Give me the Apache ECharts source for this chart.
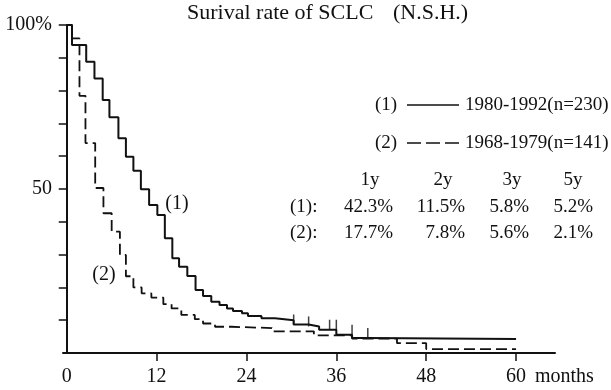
<!DOCTYPE html>
<html>
<head>
<meta charset="utf-8">
<script src="https://cdn.jsdelivr.net/npm/echarts@6/dist/echarts.min.js"></script>
<style>
  html, body { margin: 0; padding: 0; background: #fff; }
  #chart { width: 611px; height: 390px; }
</style>
</head>
<body>
<div id="chart"></div>
<script>
// survival curves, [month, % surviving after the step]
const curve1 = [
  [0, 100], [0.7, 93.9], [2.6, 88.8], [3.7, 83.7], [4.8, 77.1], [5.7, 71.9],
  [6.9, 65.5], [7.9, 59.8], [8.9, 55.6], [9.9, 49.9], [11.0, 45.1], [12.1, 42.1],
  [13.1, 35.0], [14.1, 28.9], [15.0, 26.3], [16.1, 23.5], [17.2, 19.2], [18.2, 17.4],
  [19.3, 15.6], [20.4, 14.6], [21.4, 13.6], [22.2, 12.8], [23.4, 12.1], [24.2, 11.3],
  [26.0, 10.6], [27.8, 10.0], [30.3, 8.7], [32.3, 8.1], [33.7, 7.1], [36.0, 5.6],
  [38.1, 4.6], [40.1, 4.3], [60, 4.3]
]
const curve2 = [
  [0, 100], [0.7, 95.9], [1.7, 78.4], [2.5, 64.0], [3.8, 50.3], [4.9, 42.6],
  [6.0, 37.0], [7.1, 29.9], [7.9, 23.4], [8.9, 20.0], [10.0, 18.2], [11.3, 16.9],
  [12.9, 14.9], [14.0, 13.6], [15.3, 11.6], [17.1, 10.3], [18.2, 9.0], [19.8, 8.0],
  [22.0, 7.6], [27.4, 6.6], [33.0, 5.4], [38.1, 4.4], [44.1, 3.0], [48.0, 1.2], [60, 1.2]
]
// censored marks on curve 1
const censor1 = [[30.3, 8.7], [32.3, 8.1], [35.1, 7.1], [36.0, 7.1], [38.1, 5.6], [40.2, 4.6]]

const xTicks = [12, 24, 36, 48, 60]
const xLabels = [0, 12, 24, 36, 48, 60]
const yTicks = [10, 20, 30, 40, 50, 60, 70, 80, 90, 100]

const legendNames = ['1980-1992(n=230)', '1968-1979(n=141)']
const tableYears = ['1y', '2y', '3y', '5y']
const table1 = [42.3, 11.5, 5.8, 5.2]
const table2 = [17.7, 7.8, 5.6, 2.1]

const FONT = "'Liberation Serif', 'Times New Roman', serif"
const INK = '#111'

const chart = echarts.init(document.getElementById('chart'), null, { renderer: 'canvas' })

const txt = (text, x, y, size, align) => ({
  type: 'text', x: x, y: y, silent: true,
  style: { text: text, font: size + 'px ' + FONT, fill: INK, textAlign: align || 'left', textVerticalAlign: 'middle' }
})

const colRight = [393, 465, 529, 593]
const colHead = [370, 443, 512, 573]
const graphics = [
  txt('Surival rate of SCLC', 187, 13, 22),
  txt('(N.S.H.)', 393, 13, 22),
  txt('months', 535, 377, 20),
  txt('(1)', 177, 204, 20, 'center'),
  txt('(2)', 104, 275, 20, 'center'),
  txt('(1)', 375, 105, 19),
  txt(legendNames[0], 465, 105, 19),
  txt('(2)', 375, 143, 19),
  txt(legendNames[1], 465, 143, 19),
  { type: 'line', silent: true, shape: { x1: 407, y1: 105, x2: 459, y2: 105 }, style: { stroke: INK, lineWidth: 1.6 } },
  { type: 'line', silent: true, shape: { x1: 407, y1: 143, x2: 459, y2: 143 }, style: { stroke: INK, lineWidth: 1.6, lineDash: [14, 5] } },
  txt('(1):', 290, 207, 19),
  txt('(2):', 290, 233, 19)
]
tableYears.forEach((y, i) => {
  graphics.push(txt(y, colHead[i], 180, 19, 'center'))
  graphics.push(txt(table1[i].toFixed(1) + '%', colRight[i], 207, 19, 'right'))
  graphics.push(txt(table2[i].toFixed(1) + '%', colRight[i], 233, 19, 'right'))
})

const option = {
  animation: false,
  backgroundColor: '#fff',
  grid: { left: 63, right: 56, top: 25, bottom: 37, containLabel: false, outerBoundsMode: 'none' },
  xAxis: {
    type: 'value',
    min: -0.5,
    max: 65.2,
    axisLine: { show: true, lineStyle: { color: INK, width: 2 } },
    axisTick: { show: true, customValues: xTicks, length: 8, inside: false, lineStyle: { color: INK, width: 1.5 } },
    axisLabel: { customValues: xLabels, margin: 14, color: INK, fontFamily: FONT, fontSize: 20 },
    splitLine: { show: false }
  },
  yAxis: {
    type: 'value',
    min: 0,
    max: 100,
    axisLine: { show: true, lineStyle: { color: INK, width: 2 } },
    axisTick: { show: true, customValues: yTicks, length: 8, inside: false, lineStyle: { color: INK, width: 1.5 } },
    axisLabel: {
      customValues: [50, 100],
      margin: 11,
      color: INK, fontFamily: FONT, fontSize: 20,
      formatter: v => (v === 100 ? '100%' : String(v))
    },
    splitLine: { show: false }
  },
  series: [
    {
      name: legendNames[0], type: 'line', step: 'end', data: curve1,
      showSymbol: false, lineStyle: { color: INK, width: 2 }
    },
    {
      name: legendNames[1], type: 'line', step: 'end', data: curve2,
      showSymbol: false, lineStyle: { color: INK, width: 1.8, type: [11, 5] }
    },
    {
      type: 'scatter', data: censor1,
      symbol: 'rect', symbolSize: [1.5, 10], symbolOffset: [0, '-50%'],
      itemStyle: { color: INK }
    }
  ],
  graphic: graphics
}

chart.setOption(option)
</script>
</body>
</html>
